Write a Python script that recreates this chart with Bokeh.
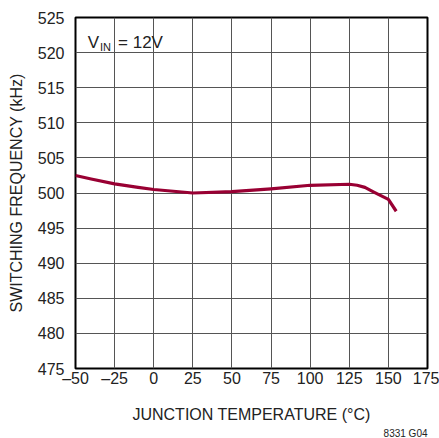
from bokeh.plotting import figure
from bokeh.models import FixedTicker, Label, Range1d, Title
from bokeh.embed import file_html
from bokeh.resources import INLINE

# data
temp_c = [-50, -40, -25, -10, 0, 25, 50, 75, 100, 125, 130, 135, 141, 150, 155]
freq_khz = [502.5, 502.0, 501.3, 500.8, 500.5, 500.0, 500.2, 500.6, 501.1, 501.25,
            501.1, 500.8, 500.1, 499.1, 497.4]
x_ticks = [-50, -25, 0, 25, 50, 75, 100, 125, 150, 175]
y_ticks = [475, 480, 485, 490, 495, 500, 505, 510, 515, 520, 525]

FONT = "'Liberation Sans', Arial, sans-serif"
TXT = "#222222"

p = figure(width=439, height=438, output_backend="svg", toolbar_location=None,
           x_range=Range1d(-50, 175), y_range=Range1d(475, 525),
           min_border_left=75, min_border_right=12, min_border_top=17,
           min_border_bottom=68)
p.background_fill_color = "white"
p.border_fill_color = "white"
p.outline_line_color = "black"
p.outline_line_width = 2

p.xaxis.ticker = FixedTicker(ticks=x_ticks)
p.yaxis.ticker = FixedTicker(ticks=y_ticks)
p.xaxis.major_label_overrides = {-50: "\u201350", -25: "\u201325"}

for ax in (p.xaxis[0], p.yaxis[0]):
    ax.axis_line_color = None
    ax.major_tick_line_color = None
    ax.minor_tick_line_color = None
    ax.major_tick_in = 0
    ax.major_tick_out = 0
    ax.minor_tick_in = 0
    ax.minor_tick_out = 0
    ax.major_label_text_font = FONT
    ax.major_label_text_font_size = "16px"
    ax.major_label_text_color = TXT
    ax.axis_label_text_font = FONT
    ax.axis_label_text_font_size = "16px"
    ax.axis_label_text_font_style = "normal"
    ax.axis_label_text_color = TXT

p.xaxis.axis_label = "JUNCTION TEMPERATURE (\u00b0C)"
p.yaxis.axis_label = "SWITCHING FREQUENCY (kHz)"
p.xaxis.major_label_standoff = 1
p.xaxis.axis_label_standoff = 16
p.yaxis.major_label_standoff = 11
p.yaxis.axis_label_standoff = 10

p.grid.grid_line_color = "#555555"
p.grid.grid_line_width = 1
p.xgrid.ticker = FixedTicker(ticks=x_ticks)
p.ygrid.ticker = FixedTicker(ticks=y_ticks)

p.line(temp_c, freq_khz, line_color="#990033", line_width=3.2, line_join="round")

# V_IN annotation
p.add_layout(Label(x=-42.2, y=521.4, text="V", text_font=FONT, text_font_size="17px",
                   text_color=TXT, text_baseline="alphabetic"))
p.add_layout(Label(x=-34.3, y=520.85, text="IN", text_font=FONT, text_font_size="11px",
                   text_color=TXT, text_baseline="alphabetic"))
p.add_layout(Label(x=-22.8, y=521.4, text="= 12V", text_font=FONT, text_font_size="17px",
                   text_color=TXT, text_baseline="alphabetic"))

# figure code, below the axis title, right aligned
p.add_layout(Title(text="8331 G04", align="right", text_font=FONT, text_font_size="10px",
                   text_font_style="normal", text_color=TXT, text_line_height=0.6,
                   standoff=0, offset=0),
             "below")

open("out.html", "w").write(file_html(p, INLINE))
